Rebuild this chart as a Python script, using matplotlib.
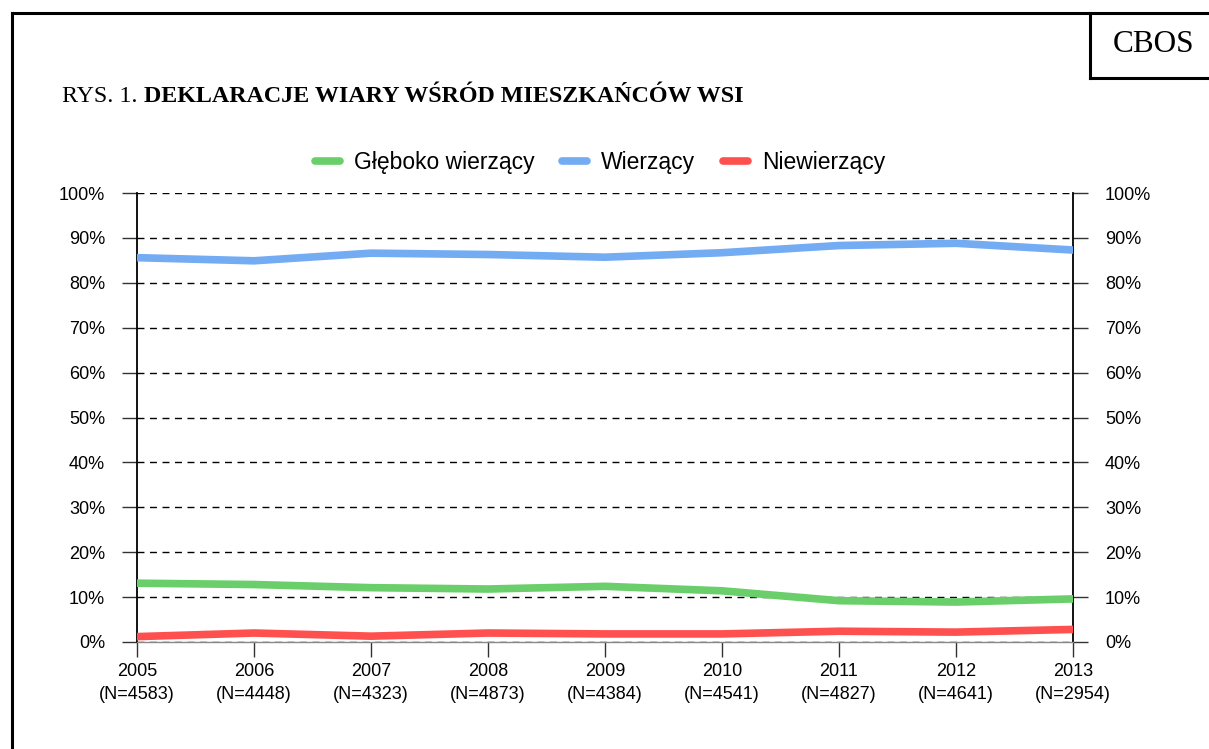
import numpy as np
import matplotlib
matplotlib.use("Agg")
import matplotlib.pyplot as plt
from matplotlib.lines import Line2D

# data
years = ["2005", "2006", "2007", "2008", "2009", "2010", "2011", "2012", "2013"]
sizes = ["4583", "4448", "4323", "4873", "4384", "4541", "4827", "4641", "2954"]
gleboko = [13.1, 12.8, 12.1, 11.8, 12.4, 11.4, 9.2, 8.9, 9.6]
wierzacy = [85.6, 84.9, 86.6, 86.3, 85.7, 86.7, 88.3, 88.8, 87.3]
niewierzacy = [1.2, 2.0, 1.3, 2.0, 1.8, 1.8, 2.4, 2.2, 2.8]

series = [("Głęboko wierzący", gleboko, "#6acf6a"),
          ("Wierzący", wierzacy, "#74acf3"),
          ("Niewierzący", niewierzacy, "#ff5050")]

plt.rcParams['font.family'] = ['Liberation Sans', 'DejaVu Sans']

W, H = 1209, 749
fig = plt.figure(figsize=(W / 100, H / 100), dpi=100)
ax = fig.add_axes([137 / W, 1 - 642 / H, (1073 - 137) / W, (642 - 193) / H])

x = np.arange(len(years))
for name, vals, col in series:
    ax.plot(x, vals, color=col, lw=5.5, solid_capstyle='round', label=name, zorder=3)

ax.set_xlim(0, len(years) - 1)
ax.set_ylim(0, 100)
ax.set_yticks(np.arange(0, 101, 10))
ax.set_yticklabels([f"{v}%" for v in range(0, 101, 10)])
ax.set_xticks(x)
ax.set_xticklabels([f"{y}\n(N={n})" for y, n in zip(years, sizes)], linespacing=1.5)
ax.tick_params(axis='y', which='both', labelsize=13, length=11, width=1,
               color='#333333', left=True, right=True, labelleft=True, labelright=True, pad=12)
ax.tick_params(axis='x', labelsize=13, length=11, width=1, color='#333333', pad=4)

# dashed gridlines
ax.yaxis.grid(True, color='black', ls=(0, (5, 4)), lw=1)
ax.set_axisbelow(True)

for s in ['left', 'right']:
    ax.spines[s].set_color('black')
    ax.spines[s].set_linewidth(1.3)
ax.spines['top'].set_visible(False)
ax.spines['bottom'].set_color('#888888')
ax.spines['bottom'].set_linewidth(1)

leg = fig.legend(loc='center', bbox_to_anchor=(600 / W, 1 - 163 / H), ncol=3,
                 frameon=False, fontsize=16.5, handlelength=1.1, handletextpad=0.6,
                 columnspacing=1.2)
for h in leg.get_lines():
    h.set_linewidth(5.5)
    h.set_solid_capstyle('round')

# title: regular prefix followed by bold part
t1 = fig.text(62 / W, 1 - 97 / H, "RYS. 1.", family='Liberation Serif', fontsize=17.3,
              va='center', ha='left')
fig.canvas.draw()
bb = t1.get_window_extent()
fig.text(bb.x1 / W + 6 / W, 1 - 97 / H, "DEKLARACJE WIARY WŚRÓD MIESZKAŃCÓW WSI",
         family='Liberation Serif', fontsize=17.3, fontweight='bold', va='center', ha='left')

# frame and CBOS box
lw = 2.2
fig.add_artist(Line2D([12 / W, 1], [1 - 13 / H, 1 - 13 / H], color='black', lw=lw))
fig.add_artist(Line2D([12 / W, 12 / W], [0, 1 - 13 / H], color='black', lw=lw))
fig.add_artist(Line2D([1090 / W, 1090 / W], [1 - 78 / H, 1 - 13 / H], color='black', lw=lw))
fig.add_artist(Line2D([1090 / W, 1], [1 - 78 / H, 1 - 78 / H], color='black', lw=lw))
fig.text(1154 / W, 1 - 45 / H, "CBOS", family='Liberation Serif', fontsize=22.5,
         ha='center', va='center')

fig.savefig("out.png", dpi=100)
